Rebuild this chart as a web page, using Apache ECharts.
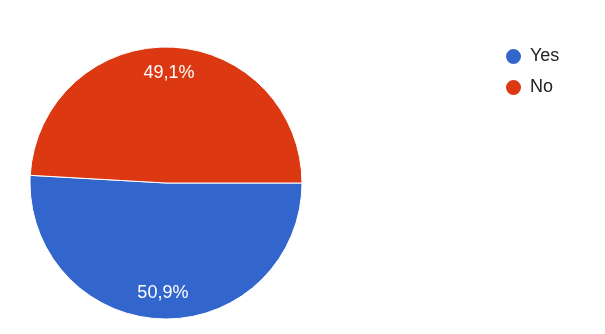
<!DOCTYPE html>
<html><head><meta charset="utf-8">
<script src="https://cdn.jsdelivr.net/npm/echarts@6/dist/echarts.min.js"></script>
<style>html,body{margin:0;padding:0;background:#fff}#c{width:605px;height:334px}</style>
</head><body><div id="c"></div>
<script>
var categories = ['Yes', 'No'];
var values = [50.9, 49.1];
var colors = ['#3366CC', '#DC3912'];

var data = categories.map(function (c, i) { return { name: c, value: values[i], itemStyle: { color: colors[i] } }; });
var fmt = function (p) { return p.value.toFixed(1).replace('.', ',') + '%'; };
var FF = 'Arial, "Liberation Sans", sans-serif';

var chart = echarts.init(document.getElementById('c'), null, { renderer: 'canvas' });
chart.setOption({
  animation: false,
  textStyle: { fontFamily: FF },
  legend: {
    orient: 'vertical', left: 499, top: 42, itemGap: 12,
    icon: 'circle', itemWidth: 17, itemHeight: 17,
    textStyle: { fontSize: 18, color: '#222', fontFamily: FF, padding: [0, 0, 0, 3] },
    data: categories
  },
  series: [{
    type: 'pie', center: [166, 183], radius: [0, 136],
    startAngle: 0, clockwise: true,
    itemStyle: { borderColor: '#fff', borderWidth: 1 },
    label: { show: false }, labelLine: { show: false },
    data: data
  }, {
    type: 'pie', center: [166, 183], radius: [78, 136],
    startAngle: 0, clockwise: true, silent: true,
    itemStyle: { color: 'rgba(0,0,0,0)', borderWidth: 0 },
    label: { show: true, position: 'inside', formatter: fmt, color: '#fff', fontSize: 18, fontFamily: FF },
    labelLine: { show: false },
    data: categories.map(function (c, i) { return { name: c, value: values[i] }; })
  }]
});
</script></body></html>
